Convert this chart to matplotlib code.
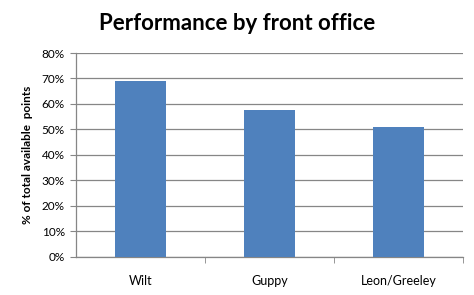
import matplotlib
matplotlib.use("Agg")
import matplotlib.pyplot as plt
from matplotlib.ticker import FuncFormatter, FixedLocator

categories = ["Wilt", "Guppy", "Leon/Greeley"]
values = [0.69, 0.575, 0.51]
title = "Performance by front office"
ylabel = "% of total available  points"

plt.rcParams['font.family'] = ['Lato', 'DejaVu Sans']

fig = plt.figure(figsize=(4.74, 2.95), dpi=100)
ax = fig.add_axes([76/474, 1-256.5/295, (463-76)/474, (256.5-53)/295])

x = list(range(len(categories)))
ax.bar(x, values, width=0.4, color="#4F81BD", zorder=3)

ax.set_ylim(0, 0.8)
ax.set_yticks([i/10 for i in range(9)])
ax.yaxis.set_major_formatter(FuncFormatter(lambda v, p: f"{v*100:.0f}%"))
ax.grid(axis="y", color="#868686", linewidth=0.9, zorder=0)
ax.set_xlim(-0.5, len(categories) - 0.5)
ax.set_xticks(x)
ax.set_xticklabels(categories)
ax.xaxis.set_minor_locator(FixedLocator([i + 0.5 for i in range(len(categories))]))
ax.tick_params(axis="x", which="major", length=0, pad=13, labelsize=9)
ax.tick_params(axis="x", which="minor", length=4, color="#868686", direction="out")
ax.tick_params(axis="y", length=4, color="#868686", direction="out", labelsize=8.5, pad=4)

for s in ["top", "right"]:
    ax.spines[s].set_visible(False)
for s in ["left", "bottom"]:
    ax.spines[s].set_color("#868686")
    ax.spines[s].set_linewidth(0.9)

ax.set_ylabel(ylabel, fontsize=8.5, fontweight="bold", labelpad=6)
fig.text(0.5, 1 - 23/295, title, ha="center", va="center", fontsize=16, fontweight="bold")

fig.savefig("out.png", dpi=100, facecolor="white")
